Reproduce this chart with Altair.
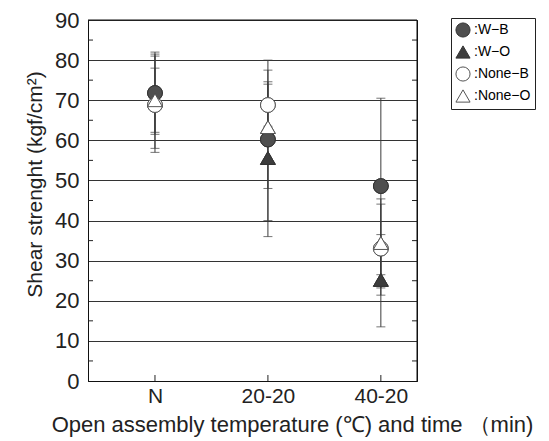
import altair as alt
import pandas as pd

categories = ["N", "20-20", "40-20"]
xpos = [1, 2, 3]
series = ["W−B", "W−O", "None−B", "None−O"]

wb_mean = [71.8, 60.2, 48.6]
wb_lo = [61.5, 40.0, 26.5]
wb_hi = [82.0, 80.0, 70.5]

wo_mean = [70.0, 55.6, 25.2]
wo_lo = [62.0, 36.0, 13.5]
wo_hi = [78.0, 74.6, 36.5]

nb_mean = [68.8, 68.8, 33.0]
nb_lo = [57.0, 63.5, 21.4]
nb_hi = [81.0, 74.0, 45.4]

no_mean = [70.0, 63.3, 34.4]
no_lo = [58.0, 48.0, 23.2]
no_hi = [81.5, 77.5, 44.1]

minor_ticks = [5, 15, 25, 35, 45, 55, 65, 75, 85]

rows = []
for name, m, lo, hi in [
    (series[0], wb_mean, wb_lo, wb_hi),
    (series[1], wo_mean, wo_lo, wo_hi),
    (series[2], nb_mean, nb_lo, nb_hi),
    (series[3], no_mean, no_lo, no_hi),
]:
    for i in range(3):
        rows.append({"series": name, "x": xpos[i], "cat": categories[i],
                     "mean": m[i], "lo": lo[i], "hi": hi[i],
                     "order": series.index(name)})
df = pd.DataFrame(rows)

W, H = 329, 361
FONT = "Liberation Sans"

xscale = alt.Scale(domain=[0.407, 3.32], nice=False, zero=False)
yscale = alt.Scale(domain=[0, 90], nice=False)

base = alt.Chart(df)

x_enc = alt.X("x:Q", scale=xscale, axis=alt.Axis(
    values=xpos, ticks=False, grid=False, domain=True, domainColor="#111", domainWidth=1,
    labelExpr="datum.value == 1 ? 'N' : datum.value == 2 ? '20-20' : '40-20'",
    labelFontSize=21, labelPadding=4, labelColor="#222", labelFont=FONT,
    title="Open assembly temperature (℃) and time （min)",
    titleFontSize=22, titleFontWeight="normal", titlePadding=8, titleColor="#222",
    titleFont=FONT, titleX=204, titleAlign="center"))

y_enc = alt.Y("mean:Q", scale=yscale, axis=alt.Axis(
    values=list(range(0, 91, 10)), tickSize=0, domain=True, domainColor="#111", domainWidth=1,
    grid=True, gridColor="#333", gridWidth=1, gridOpacity=1,
    labelFontSize=22, labelPadding=9, labelColor="#222", labelFont=FONT,
    title="Shear strenght (kgf/cm²)", titleFontSize=21, titleFont=FONT,
    titleFontWeight="normal", titlePadding=9, titleColor="#222",
    titleY=164, titleAlign="center"))

rules = base.mark_rule(color="#3a3a3a", strokeWidth=1).encode(
    x=alt.X("x:Q", scale=xscale), y=alt.Y("lo:Q", scale=yscale), y2="hi:Q")

caps_lo = base.mark_tick(orient="horizontal", color="#3a3a3a", size=9, thickness=1).encode(
    x=alt.X("x:Q", scale=xscale), y=alt.Y("lo:Q", scale=yscale))
caps_hi = base.mark_tick(orient="horizontal", color="#3a3a3a", size=9, thickness=1).encode(
    x=alt.X("x:Q", scale=xscale), y=alt.Y("hi:Q", scale=yscale))

points = base.mark_point(size=220, strokeWidth=1, opacity=1, fillOpacity=1).encode(
    x=x_enc,
    y=y_enc,
    shape=alt.Shape("series:N", scale=alt.Scale(
        domain=series, range=["circle", "triangle-up", "circle", "triangle-up"]),
        sort=series,
        legend=alt.Legend(title=None, orient="none", legendX=363, legendY=-2,
                          strokeColor="#222", padding=4, rowPadding=3,
                          symbolSize=200, labelFontSize=14, labelFont=FONT,
                          labelExpr="':' + datum.label", fillColor="white",
                          symbolStrokeWidth=1, labelOffset=3)),
    fill=alt.Fill("series:N", scale=alt.Scale(
        domain=series, range=["#4f4f4f", "#3d3d3d", "white", "white"]), sort=series),
    stroke=alt.Stroke("series:N", scale=alt.Scale(
        domain=series, range=["#333", "#333", "#555", "#555"]), sort=series),
    order=alt.Order("order:Q"),
)

minor_df = pd.DataFrame({"v": minor_ticks})
minor_left = alt.Chart(minor_df).mark_rule(color="#222").encode(
    x=alt.value(0), x2=alt.value(5), y=alt.Y("v:Q", scale=yscale))
minor_right = alt.Chart(minor_df).mark_rule(color="#222").encode(
    x=alt.value(W - 5), x2=alt.value(W), y=alt.Y("v:Q", scale=yscale))

xt_df = pd.DataFrame({"x": xpos})
x_ticks = alt.Chart(xt_df).mark_rule(color="#222").encode(
    x=alt.X("x:Q", scale=xscale), y=alt.value(H), y2=alt.value(H - 6))

one = pd.DataFrame({"a": [0]})
frame_r = alt.Chart(one).mark_rule(color="#111", strokeWidth=1).encode(
    x=alt.value(W), y=alt.value(0), y2=alt.value(H))
frame_t = alt.Chart(one).mark_rule(color="#111", strokeWidth=1).encode(
    x=alt.value(0), x2=alt.value(W), y=alt.value(0))

chart = alt.layer(points, rules, caps_lo, caps_hi, minor_left, minor_right, x_ticks,
                  frame_r, frame_t, points).properties(
    width=W, height=H,
    autosize=alt.AutoSizeParams(type="none"),
    padding={"left": 80, "top": 12, "right": 124, "bottom": 58},
).configure(font=FONT).configure_view(stroke="#111", strokeWidth=1).configure_legend(
    strokeColor="#222", strokeWidth=1
)

chart.save("out.html", embed_options={"renderer": "svg", "actions": False})
